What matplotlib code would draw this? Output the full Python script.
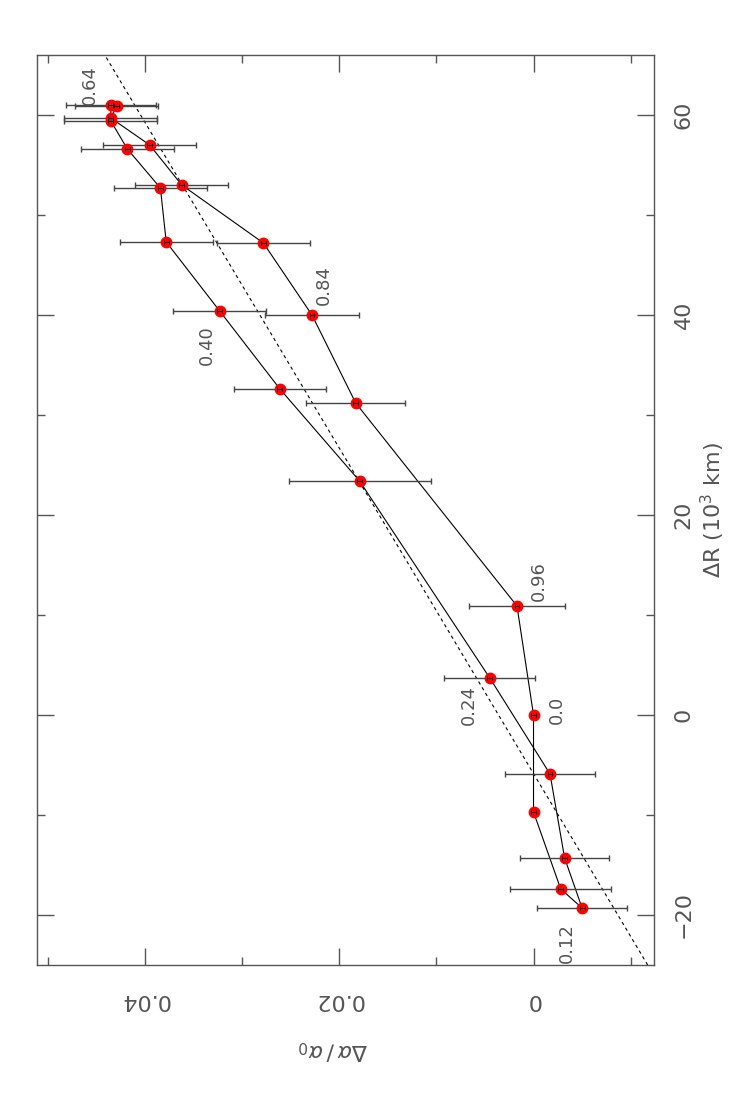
import numpy as np
import matplotlib
matplotlib.use('Agg')
import matplotlib.pyplot as plt
from matplotlib.ticker import MultipleLocator, FixedLocator

delta_r = [0.0, -9.7, -17.4, -19.3, -14.3, -5.9, 3.7, 23.4, 32.6, 40.4, 47.3,
           52.7, 56.6, 59.4, 61.0, 60.9, 59.7, 57.0, 53.0, 47.2, 40.0, 31.2, 10.9]
delta_alpha = [0.0, 0.0, -0.0028, -0.0050, -0.0032, -0.0017, 0.0045, 0.0179,
               0.0261, 0.0323, 0.0378, 0.0384, 0.0418, 0.0435, 0.0435, 0.0429,
               0.0435, 0.0395, 0.0362, 0.0278, 0.0228, 0.0183, 0.0017]
alpha_err = [0.0, 0.0, 0.0052, 0.0046, 0.0046, 0.0046, 0.0047, 0.0073,
             0.0047, 0.0048, 0.0048, 0.0048, 0.0048, 0.0048, 0.0046, 0.0043,
             0.0048, 0.0048, 0.0048, 0.0048, 0.0048, 0.0051, 0.0049]

# phase labels: (index of point, text, offset in pixels (right, up))
phase_idx = [0, 3, 6, 9, 14, 20, 22]
phase_txt = ['0.0', '0.12', '0.24', '0.40', '0.64', '0.84', '0.96']
phase_off = [(23, 5), (-15, -35), (-21, -27), (-13, -34), (-21, 20), (12, 30), (22, 25)]

# dashed linear relation
fit_slope = 0.000614
fit_icpt = 0.0036

grey = '#555555'
plt.rcParams['font.family'] = 'DejaVu Sans'
plt.rcParams['mathtext.fontset'] = 'dejavusans'

fig = plt.figure(figsize=(7.54, 10.97), dpi=100)
ax = fig.add_axes([37 / 754, 132 / 1097, 617 / 754, 910 / 1097])

# closed loop through the points
loop_a = delta_alpha + [delta_alpha[0]]
loop_r = delta_r + [delta_r[0]]
ax.plot(loop_a, loop_r, color='black', lw=0.8, zorder=2)

# error bars
for a, r, e in zip(delta_alpha, delta_r, alpha_err):
    if e > 0:
        ax.errorbar(a, r, xerr=e, fmt='none', ecolor='#444444', elinewidth=1.0,
                    capsize=2.5, capthick=1.0, zorder=3)

# red points with small black error marks
ax.plot(delta_alpha, delta_r, 'o', color='red', ms=7.5, mec='red', zorder=4)
ax.errorbar(delta_alpha, delta_r, xerr=0.00025, fmt='none', ecolor='black',
            elinewidth=0.7, capsize=1.5, capthick=0.7, zorder=5)

# dashed line
rr = np.array([-25, 66])
ax.plot(fit_icpt + fit_slope * rr, rr, color='black', lw=0.8, ls=(0, (3, 3)), zorder=1)

# phase labels
for i, t, off in zip(phase_idx, phase_txt, phase_off):
    ax.annotate(t, (delta_alpha[i], delta_r[i]), xytext=off, textcoords='offset pixels',
                rotation=90, ha='center', va='center', fontsize=13, color=grey)

ax.set_xlim(0.0511, -0.0124)
ax.set_ylim(-25, 66)

ax.xaxis.set_major_locator(FixedLocator([0, 0.02, 0.04]))
ax.xaxis.set_minor_locator(FixedLocator([-0.01, 0.01, 0.03, 0.05]))
ax.xaxis.set_major_formatter(plt.FuncFormatter(lambda v, p: '0' if abs(v) < 1e-9 else f'{v:.2f}'))
ax.yaxis.set_major_locator(MultipleLocator(20))
ax.yaxis.set_minor_locator(MultipleLocator(10))

ax.yaxis.tick_right()
ax.tick_params(which='both', direction='in', top=True, bottom=True, left=True, right=True,
               color=grey, width=1.0)
ax.tick_params(which='major', length=12)
ax.tick_params(which='minor', length=6)
ax.tick_params(axis='x', labelrotation=180, pad=18, labelsize=16, labelcolor=grey)
ax.tick_params(axis='y', labelrotation=90, pad=14, labelsize=16, labelcolor=grey,
               labelleft=False, labelright=True)
for lab in ax.get_yticklabels():
    lab.set_va('center')

for s in ax.spines.values():
    s.set_color(grey)
    s.set_linewidth(1.0)

ax.text(0.48, -0.093, r'$\Delta\alpha\,/\,\alpha_0$', transform=ax.transAxes,
        rotation=180, ha='center', va='center', fontsize=16, color=grey)
ax.text((713 - 37) / 617, 0.5, r'$\Delta$R (10$^3$ km)', transform=ax.transAxes,
        rotation=90, ha='center', va='center', fontsize=16, color=grey)

fig.savefig('out.png', dpi=100)
